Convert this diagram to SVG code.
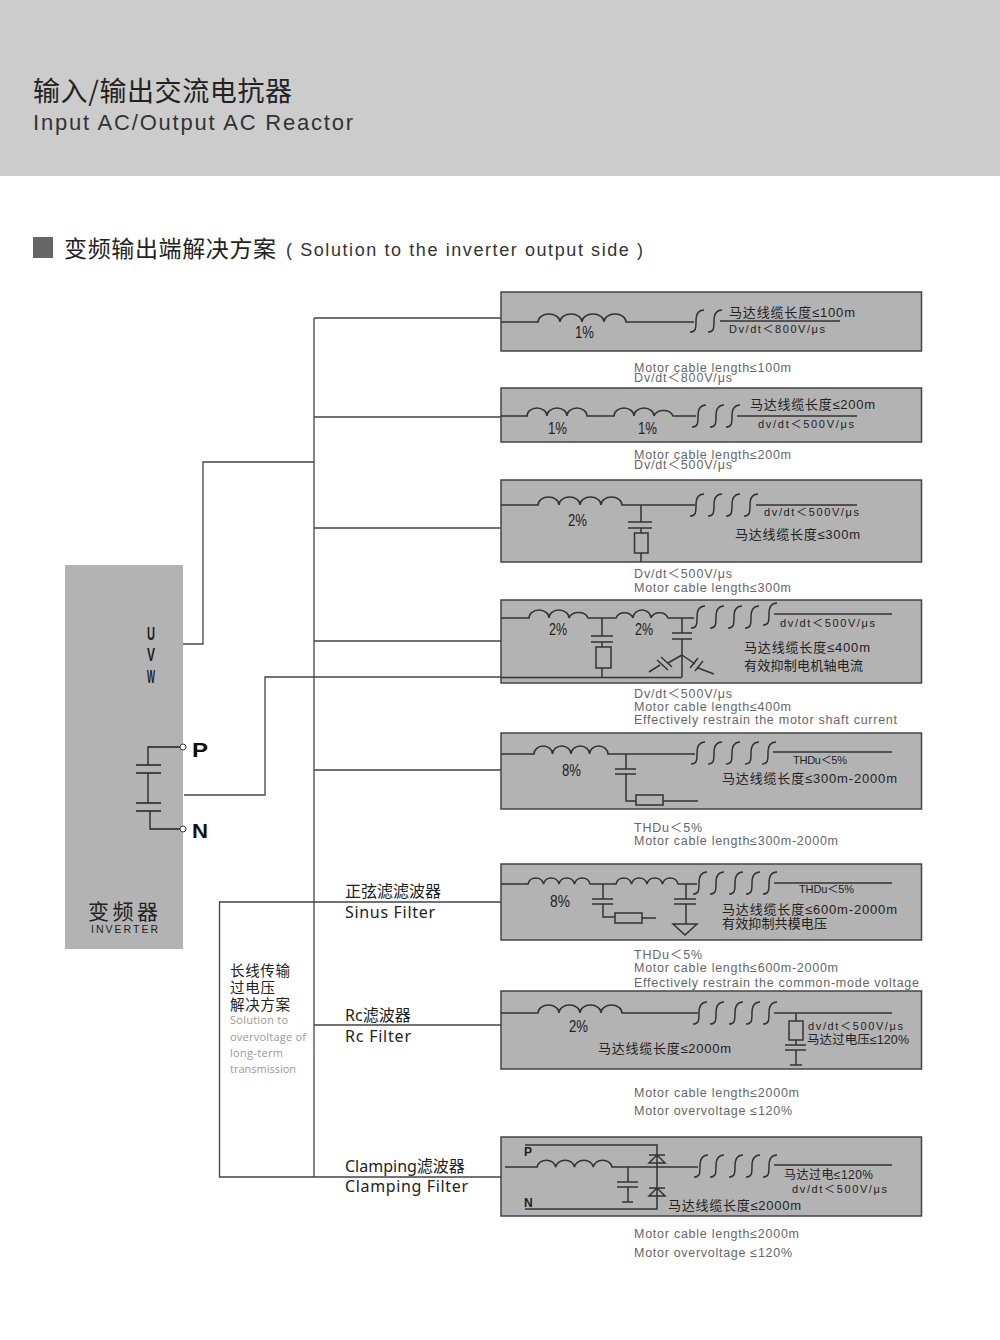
<svg xmlns="http://www.w3.org/2000/svg" width="1000" height="1340" viewBox="0 0 1000 1340">
<style>
text{font-family:"Noto Sans CJK SC",sans-serif;fill:#222}
.panel{fill:#b3b3b3;stroke:#444;stroke-width:1.5}
.w{fill:none;stroke:#333;stroke-width:1.5}
.wk{fill:none;stroke:#222;stroke-width:1.3}
.bus{fill:none;stroke:#444;stroke-width:1.3}
.cn{font-family:"Liberation Sans","Noto Sans CJK SC",sans-serif;font-size:13px;fill:#222}
.mono{font-family:"Liberation Sans","Noto Sans CJK SC",sans-serif;font-size:11px;fill:#222}
.pct{font-family:"Liberation Sans","Noto Sans CJK SC",sans-serif;font-size:16px;fill:#222}
.cap{font-family:"Liberation Sans","Noto Sans CJK SC",sans-serif;font-size:12.5px;fill:#666}
.lab{font-family:"Noto Sans","Noto Sans CJK SC",sans-serif;font-size:16px;fill:#222}
.sol{font-family:"Open Sans",sans-serif;font-size:11px;fill:#999}
.bk{font-family:"Liberation Sans",sans-serif;font-weight:bold;fill:#111}
</style>
<defs>
<path id="s" class="w" d="M-7 11C-1 11 -1 7 -1 0C-1 -7 1 -11 7 -11"/>
</defs>
<rect id="header-band" x="0" y="0" width="1000" height="176" fill="#cccccc"/>
<text x="33" y="101" font-size="27" textLength="259">输入/输出交流电抗器</text>
<text x="33" y="130" font-size="22" textLength="320" style="font-family:'Liberation Sans',sans-serif;fill:#333">Input AC/Output AC Reactor</text>
<rect x="33" y="237" width="20" height="21" fill="#666"/>
<text x="64" y="257" font-size="23" textLength="212">变频输出端解决方案</text>
<text x="286" y="256" font-size="18" textLength="357" style="font-family:'Liberation Sans',sans-serif;fill:#333">( Solution to the inverter output side )</text>

<g id="connectors">
<path class="bus" d="M314 318V1177"/>
<path class="bus" d="M314 318H501M314 417H501M314 528H501M314 641H501M314 770H501M314 902H501M314 1025H501M314 1177H501"/>
<path class="bus" d="M183 644H203V462H314"/>
<path class="bus" d="M184 795H265V677H501"/>
<path class="bus" d="M314 902H219.500V1177H314"/>
</g>

<g id="inverter">
<rect x="65" y="565" width="118" height="384" fill="#b3b3b3"/>
<text class="bk" x="147" y="640" font-size="18" textLength="8" lengthAdjust="spacingAndGlyphs" style="fill:#222">U</text>
<text class="bk" x="147" y="661" font-size="18" textLength="8" lengthAdjust="spacingAndGlyphs" style="fill:#222">V</text>
<text class="bk" x="147" y="683" font-size="18" textLength="8" lengthAdjust="spacingAndGlyphs" style="fill:#222">W</text>
<path class="wk" d="M180 747H148V765M136 765H161M136 773H161M148 773V803M136 803H161M136 811H161M150 811V829H180"/>
<circle cx="183" cy="747" r="3" fill="#fff" stroke="#444"/>
<circle cx="183" cy="829" r="3" fill="#fff" stroke="#444"/>
<text class="bk" x="192" y="757" font-size="21" textLength="16" lengthAdjust="spacingAndGlyphs">P</text>
<text class="bk" x="192" y="838" font-size="21" textLength="16" lengthAdjust="spacingAndGlyphs">N</text>
<text x="88" y="919" font-size="21" textLength="70">变频器</text>
<text x="91" y="933" font-size="10.500" textLength="67" style="font-family:'Liberation Sans',sans-serif">INVERTER</text>
</g>

<g id="filter-labels">
<text class="lab" x="345" y="897">正弦滤滤波器</text>
<text class="lab" x="345" y="918" textLength="90">Sinus Filter</text>
<text class="lab" x="345" y="1021">Rc滤波器</text>
<text class="lab" x="345" y="1042" textLength="66">Rc Filter</text>
<text class="lab" x="345" y="1172">Clamping滤波器</text>
<text class="lab" x="345" y="1192" textLength="123">Clamping Filter</text>
</g>

<g id="long-line-note">
<text x="230" y="976" font-size="14.500" textLength="60">长线传输</text>
<text x="230" y="993" font-size="14.500" textLength="45">过电压</text>
<text x="230" y="1010" font-size="14.500" textLength="60">解决方案</text>
<text class="sol" x="230" y="1024" textLength="58">Solution to</text>
<text class="sol" x="230" y="1041" textLength="76">overvoltage of</text>
<text class="sol" x="230" y="1057" textLength="53">long-term</text>
<text class="sol" x="230" y="1073" textLength="66">transmission</text>
</g>

<g id="panel-1">
<rect class="panel" x="501" y="292" width="420.500" height="59"/>
<path class="w" d="M501 322H538a11 8 0 0 1 22 0a11 8 0 0 1 22 0a11 8 0 0 1 22 0a11 8 0 0 1 22 0H694"/>
<use href="#s" x="697" y="321"/><use href="#s" x="715" y="321"/>
<path class="w" d="M720 321H840"/>
<text class="cn" x="729" y="317" textLength="126">马达线缆长度≤100m</text>
<text class="mono" x="729" y="333" textLength="96">Dv/dt＜800V/μs</text>
<text class="pct" x="575" y="338" textLength="19" lengthAdjust="spacingAndGlyphs">1%</text>
</g>
<g id="caption-1">
<text class="cap" x="634" y="372" textLength="157">Motor cable length≤100m</text>
<text class="cap" x="634" y="382" textLength="98">Dv/dt＜800V/μs</text>
</g>

<g id="panel-2">
<rect class="panel" x="501" y="388" width="420.500" height="54"/>
<path class="w" d="M501 416H527a10 8 0 0 1 20 0a10 8 0 0 1 20 0a10 8 0 0 1 20 0H614a10 8 0 0 1 20 0a10 8 0 0 1 20 0a10 8 0 0 1 19 0H696"/>
<use href="#s" x="699" y="416"/><use href="#s" x="717" y="416"/><use href="#s" x="733" y="416"/>
<path class="w" d="M737 416H857"/>
<text class="cn" x="750" y="409" textLength="125">马达线缆长度≤200m</text>
<text class="mono" x="758" y="428" textLength="96">dv/dt＜500V/μs</text>
<text class="pct" x="548" y="434" textLength="19" lengthAdjust="spacingAndGlyphs">1%</text>
<text class="pct" x="638" y="434" textLength="19" lengthAdjust="spacingAndGlyphs">1%</text>
</g>
<g id="caption-2">
<text class="cap" x="634" y="459" textLength="157">Motor cable length≤200m</text>
<text class="cap" x="634" y="469" textLength="98">Dv/dt＜500V/μs</text>
</g>

<g id="panel-3">
<rect class="panel" x="501" y="480" width="420.500" height="82"/>
<path class="w" d="M501 505H538a10.500 8 0 0 1 21 0a10.500 8 0 0 1 21 0a10.500 8 0 0 1 21 0a10.500 8 0 0 1 21 0H695"/>
<use href="#s" x="697" y="505"/><use href="#s" x="715" y="505"/><use href="#s" x="733" y="505"/><use href="#s" x="751" y="505"/>
<path class="w" d="M756 505H857M641 505V522M628 522H652M628 528H652M641 528V533M641 553V562"/>
<rect class="w" x="634.500" y="533" width="13.500" height="20"/>
<text class="mono" x="764" y="516" textLength="95">dv/dt＜500V/μs</text>
<text class="cn" x="735" y="539" textLength="125">马达线缆长度≤300m</text>
<text class="pct" x="568" y="526" textLength="19" lengthAdjust="spacingAndGlyphs">2%</text>
</g>
<g id="caption-3">
<text class="cap" x="634" y="578" textLength="98">Dv/dt＜500V/μs</text>
<text class="cap" x="634" y="592" textLength="157">Motor cable length≤300m</text>
</g>

<g id="panel-4">
<rect class="panel" x="501" y="600" width="420.500" height="83"/>
<path class="w" d="M501 618H529a10 8 0 0 1 20 0a10 8 0 0 1 20 0a10 8 0 0 1 19 0H616a9 8 0 0 1 17 0a9 8 0 0 1 18 0a9 8 0 0 1 17 0H694"/>
<use href="#s" x="698" y="617"/><use href="#s" x="717" y="617"/><use href="#s" x="735" y="617"/><use href="#s" x="752" y="617"/><use href="#s" x="770" y="614"/>
<path class="w" d="M774 614H892M602 618V636M591 636H613M591 642H613M602 642V647M602 668V677M682 618V633M672 633H692M672 639H692M682 639V677M501 677.500H682"/>
<rect class="w" x="596" y="647" width="15" height="21"/>
<path class="w" d="M682 655L668 663M657 660L668 670M661 657L672 667M660 665L649 672M682 655L695 664M703 661L695 671M698 658L690 668M698 668L714 674"/>
<text class="mono" x="780" y="627" textLength="95">dv/dt＜500V/μs</text>
<text class="cn" x="744" y="652" textLength="126">马达线缆长度≤400m</text>
<text class="cn" x="744" y="670" textLength="119">有效抑制电机轴电流</text>
<text class="pct" x="549" y="635" textLength="18" lengthAdjust="spacingAndGlyphs">2%</text>
<text class="pct" x="635" y="635" textLength="18" lengthAdjust="spacingAndGlyphs">2%</text>
</g>
<g id="caption-4">
<text class="cap" x="634" y="698" textLength="98">Dv/dt＜500V/μs</text>
<text class="cap" x="634" y="711" textLength="157">Motor cable length≤400m</text>
<text class="cap" x="634" y="724" textLength="263">Effectively restrain the motor shaft current</text>
</g>

<g id="panel-5">
<rect class="panel" x="501" y="733" width="420.500" height="76"/>
<path class="w" d="M501 754H534a9.250 8 0 0 1 18.500 0a9.250 8 0 0 1 18.500 0a9.250 8 0 0 1 18.500 0a9.250 8 0 0 1 18.500 0H695"/>
<use href="#s" x="698" y="753"/><use href="#s" x="715" y="753"/><use href="#s" x="733" y="753"/><use href="#s" x="752" y="753"/><use href="#s" x="769" y="753"/>
<path class="w" d="M773 752H892M626 754V769M615 769H636M615 774H636M626 774V801H636M663 801H698"/>
<rect class="w" x="636" y="795" width="27" height="10"/>
<text class="mono" x="793" y="764" textLength="54">THDu＜5%</text>
<text class="cn" x="722" y="783" textLength="175">马达线缆长度≤300m-2000m</text>
<text class="pct" x="562" y="776" textLength="19" lengthAdjust="spacingAndGlyphs">8%</text>
</g>
<g id="caption-5">
<text class="cap" x="634" y="832" textLength="68">THDu＜5%</text>
<text class="cap" x="634" y="845" textLength="204">Motor cable length≤300m-2000m</text>
</g>

<g id="panel-6">
<rect class="panel" x="501" y="864" width="420.500" height="76"/>
<path class="w" d="M501 884H528a8 8 0 0 1 15.500 0a8 8 0 0 1 15.500 0a8 8 0 0 1 15.500 0a8 8 0 0 1 15.500 0H616a8 8 0 0 1 15.500 0a8 8 0 0 1 15.500 0a8 8 0 0 1 15.500 0a8 8 0 0 1 15.500 0H697"/>
<use href="#s" x="700" y="883"/><use href="#s" x="717" y="883"/><use href="#s" x="736" y="883"/><use href="#s" x="753" y="883"/><use href="#s" x="770" y="883"/>
<path class="w" d="M774 883H892M603 884V899M592 899H613M592 904H613M603 904V917H615M642 918H656M686 884V899M674 899H696M674 904H696M686 904V924M673 924H697L685 935Z"/>
<rect class="w" x="615" y="913" width="27" height="10"/>
<text class="mono" x="799" y="893" textLength="55">THDu＜5%</text>
<text class="cn" x="722" y="914" textLength="175">马达线缆长度≤600m-2000m</text>
<text class="cn" x="722" y="928" textLength="105">有效抑制共模电压</text>
<text class="pct" x="550" y="907" textLength="20" lengthAdjust="spacingAndGlyphs">8%</text>
</g>
<g id="caption-6">
<text class="cap" x="634" y="959" textLength="68">THDu＜5%</text>
<text class="cap" x="634" y="972" textLength="204">Motor cable length≤600m-2000m</text>
<text class="cap" x="634" y="987" textLength="285">Effectively restrain the common-mode voltage</text>
</g>

<g id="panel-7">
<rect class="panel" x="501" y="991" width="420.500" height="78"/>
<path class="w" d="M501 1013H538a10.500 8 0 0 1 21 0a10.500 8 0 0 1 21 0a10.500 8 0 0 1 21 0a10.500 8 0 0 1 21 0H698"/>
<use href="#s" x="700" y="1013"/><use href="#s" x="717" y="1013"/><use href="#s" x="736" y="1013"/><use href="#s" x="753" y="1013"/><use href="#s" x="770" y="1013"/>
<path class="w" d="M774 1013H892M796 1013V1021M796 1040V1045M785 1045H806M785 1050H806M796 1050V1065M790 1065H802"/>
<rect class="w" x="789" y="1021" width="14" height="19"/>
<text class="pct" x="569" y="1032" textLength="19" lengthAdjust="spacingAndGlyphs">2%</text>
<text class="cn" x="598" y="1053" textLength="133">马达线缆长度≤2000m</text>
<text class="mono" x="808" y="1030" textLength="95">dv/dt＜500V/μs</text>
<text class="cn" x="807" y="1044" textLength="102" style="font-size:12.500px">马达过电压≤120%</text>
</g>
<g id="caption-7">
<text class="cap" x="634" y="1097" textLength="165">Motor cable length≤2000m</text>
<text class="cap" x="634" y="1115" textLength="158">Motor overvoltage ≤120%</text>
</g>

<g id="panel-8">
<rect class="panel" x="501" y="1137" width="420.500" height="79"/>
<path class="w" d="M505 1167H537a9.500 8 0 0 1 18.750 0a9.500 8 0 0 1 18.750 0a9.500 8 0 0 1 18.750 0a9.500 8 0 0 1 18.750 0H698"/>
<use href="#s" x="701" y="1166"/><use href="#s" x="717" y="1166"/><use href="#s" x="736" y="1166"/><use href="#s" x="753" y="1166"/><use href="#s" x="770" y="1166"/>
<path class="w" d="M774 1165H892M525 1145H657V1209H525M649 1155H665M649 1163H665L657 1155ZM649 1188H665M649 1196H665L657 1188ZM628 1167V1182M617 1182H638M617 1187H638M628 1187V1202M622 1202H633"/>
<text class="bk" x="524" y="1156" font-size="12" style="fill:#222">P</text>
<text class="bk" x="524" y="1207" font-size="12" style="fill:#222">N</text>
<text class="cn" x="668" y="1210" textLength="133">马达线缆长度≤2000m</text>
<text class="cn" x="784" y="1179" textLength="89" style="font-size:12px">马达过电≤120%</text>
<text class="mono" x="792" y="1193" textLength="95">dv/dt＜500V/μs</text>
</g>
<g id="caption-8">
<text class="cap" x="634" y="1238" textLength="165">Motor cable length≤2000m</text>
<text class="cap" x="634" y="1257" textLength="158">Motor overvoltage ≤120%</text>
</g>
</svg>
